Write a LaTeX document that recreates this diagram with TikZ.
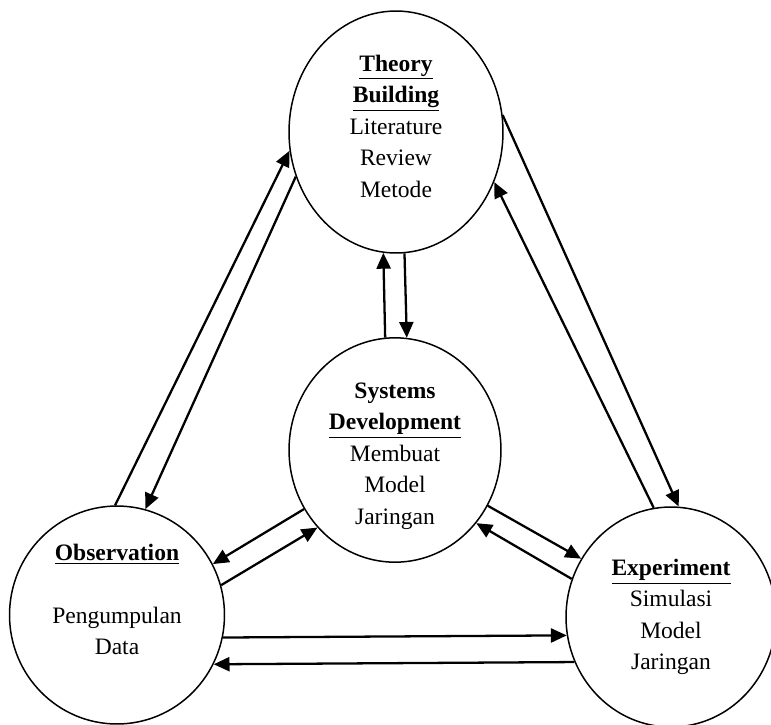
\documentclass[tikz,border=0pt]{standalone}
\usepackage{fontspec}
\setmainfont{Liberation Serif}
\usetikzlibrary{shapes.geometric,arrows.meta}

\begin{document}
\begin{tikzpicture}[
  x=0.02cm, y=-0.02cm,
  bub/.style={ellipse, draw=black, line width=0.85pt, inner sep=0pt,
              align=center, font=\fontsize{13.4}{17.9}\selectfont},
  arr/.style={-{Triangle[length=9pt, width=8pt]}, line width=1.3pt, black},
]
\useasboundingbox (0,0) rectangle (771,724);

% Bubbles
\node[bub, minimum width=4.28cm, minimum height=4.84cm] (TB) at (396,132)
  {\textbf{\underline{Theory}}\\ \textbf{\underline{Building}}\\ Literature\\ Review\\
   Metode\rule[-6.8pt]{0pt}{0pt}};
\node[bub, minimum width=4.24cm, minimum height=4.40cm] (SD) at (395,450)
  {\rule{0pt}{15.8pt}\textbf{Systems}\\ \textbf{\underline{Development}}\\ Membuat\\ Model\\ Jaringan};
\node[bub, minimum width=4.30cm, minimum height=4.36cm] (OB) at (117,615)
  {\textbf{\underline{Observation}}\\[17.9pt] Pengumpulan\\ Data\\ \mbox{}};
\node[bub, minimum width=4.20cm, minimum height=4.40cm] (EX) at (671,617)
  {\textbf{\underline{Experiment}}\\ Simulasi\\ Model\\ Jaringan};

% Theory building <-> observation
\draw[arr] (OB.91)    -- (TB.190);
\draw[arr] (TB.204.5) -- (OB.75);

% Theory building <-> experiment
\draw[arr] (TB.9.6)   -- (EX.86.8);
\draw[arr] (EX.99.6)  -- (TB.333.7);

% Theory building <-> systems development
\draw[arr] (SD.95.2)  -- (TB.264.8);
\draw[arr] (TB.274.3) -- (SD.84.8);

% Systems development <-> observation / experiment
\draw[arr] (SD.213)   -- (OB.28);
\draw[arr] (OB.16.5)  -- (SD.225);
\draw[arr] (SD.329.6) -- (EX.147);
\draw[arr] (EX.159)   -- (SD.318.6);

% Observation <-> experiment
\draw[arr] (OB.348)   -- (EX.190.5);
\draw[arr] (EX.205)   -- (OB.333.5);

\end{tikzpicture}
\end{document}
